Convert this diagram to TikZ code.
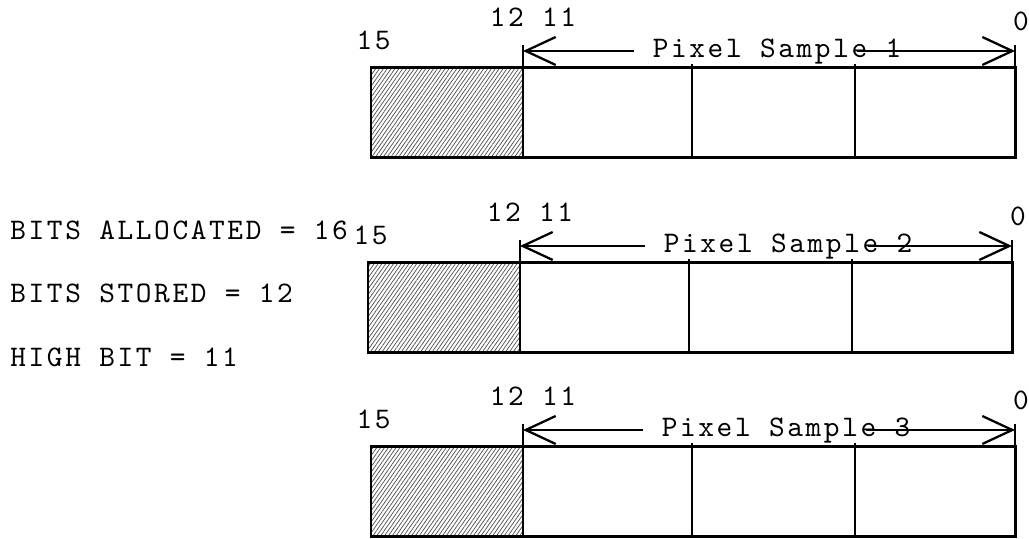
\documentclass[tikz,border=0pt]{standalone}
\usepackage{fontspec}
\setmonofont{lmmono10-regular}[Extension=.otf, LetterSpace=8.8]
\usetikzlibrary{arrows.meta,patterns.meta}
\tikzset{
	bitlbl/.style={font=\fontsize{17}{20}\ttfamily, inner sep=0pt, anchor=base},
	boxline/.style={line width=1.7pt},
	divline/.style={line width=1.3pt},
	dimline/.style={line width=1.3pt, -{Straight Barb[length=0.6cm,width=0.56cm]}},
}
\begin{document}
\begin{tikzpicture}
	\useasboundingbox (0,0) rectangle (20.58,10.78);

	\node [bitlbl, anchor=base west] (alloc)  at (0.2,5.98) {BITS ALLOCATED = 16};
	\node [bitlbl, anchor=base west] (stored) at (0.2,4.72) {BITS STORED = 12};
	\node [bitlbl, anchor=base west] (high)   at (0.2,3.44) {HIGH BIT = 11};

	\foreach \n/\x/\y/\t in {1/7.42/9.42/8.12, 2/7.36/5.52/8.40, 3/7.42/1.84/8.30} {
		\begin{scope}[shift={(\x,\y)}]
			\fill [pattern={Lines[angle=55,distance=1.8pt,line width=0.4pt]}, pattern color=black!70] (0,0) rectangle (3.04,-1.8);
			\draw [divline] (3.04,0.46) -- (3.04,-1.8);
			\draw [divline] (12.88,0.46) -- (12.88,-1.8);
			\foreach \d in {6.42, 9.68} {
				\draw [divline] (\d,0.08) -- (\d,-1.8);
			}
			\draw [boxline] (0,0) rectangle (12.88,-1.8);

			\node [bitlbl] (msb\n) at (0.05,0.36) {15};
			\node [bitlbl] (hb\n)  at (3.24,0.82) {12 11};
			\node [bitlbl] (lsb\n) at (13.0,0.74) {0};

			\coordinate (tl\n) at (3.04,0.34);
			\coordinate (tr\n) at (12.88,0.34);
			\coordinate (al\n) at (\t-2.86,0.34);
			\coordinate (ar\n) at (\t+1.6,0.34);
			\node [bitlbl] (smp\n) at (\t,0.2) {Pixel Sample \n};
			\draw [dimline] (al\n) -- (tl\n);
			\draw [dimline] (ar\n) -- (tr\n);
		\end{scope}
	}
\end{tikzpicture}
\end{document}
